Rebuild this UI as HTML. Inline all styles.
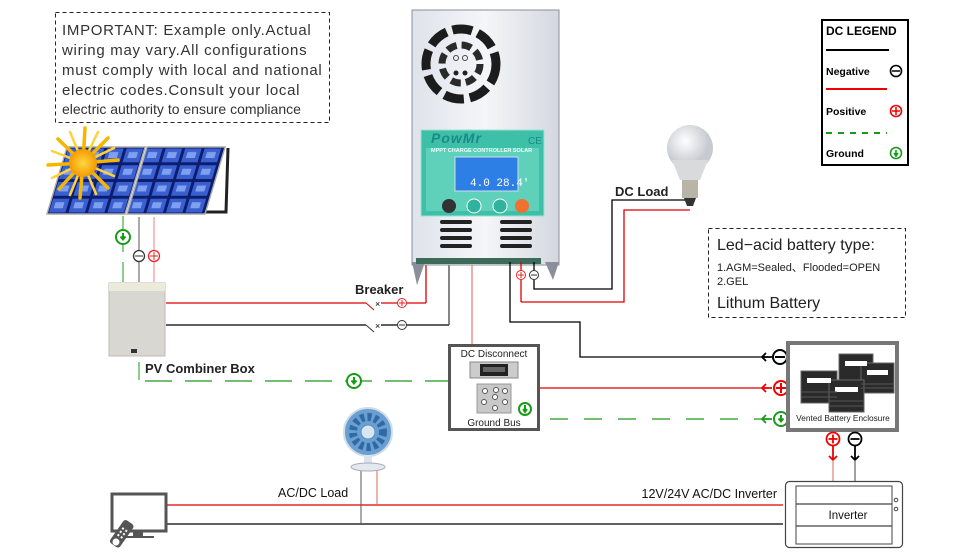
<!DOCTYPE html>
<html><head><meta charset="utf-8"><style>
html,body{margin:0;padding:0;background:#fff;}
svg{display:block;font-family:"Liberation Sans",Arial,sans-serif;}
</style></head><body>
<svg width="970" height="560" viewBox="0 0 970 560" xmlns="http://www.w3.org/2000/svg">
<defs>
<pattern id="cell" x="0" y="0" width="19.5" height="16.75" patternUnits="userSpaceOnUse">
<rect width="19.5" height="16.75" fill="#0d1d6e"/>
<rect x="1.5" y="1.5" width="16.5" height="13.75" fill="#3a5fd0"/>
<rect x="5" y="5" width="9" height="6" fill="#7fa0ee"/>
</pattern>
<linearGradient id="silver" x1="0" x2="1"><stop offset="0" stop-color="#dfe3ea"/><stop offset="0.5" stop-color="#f4f6f9"/><stop offset="1" stop-color="#d4d8df"/></linearGradient>
<radialGradient id="sun"><stop offset="0" stop-color="#ffd640"/><stop offset="1" stop-color="#f39a00"/></radialGradient>
<radialGradient id="bulb" cx="0.4" cy="0.35"><stop offset="0" stop-color="#fff"/><stop offset="1" stop-color="#c7cbd0"/></radialGradient>
</defs>

<!-- IMPORTANT box -->
<rect x="55.5" y="12.5" width="274" height="110" fill="none" stroke="#222" stroke-dasharray="4,3"/>
<g font-size="15" fill="#333" letter-spacing="0.7">
<text x="62" y="35">IMPORTANT: Example only.Actual</text>
<text x="62" y="55">wiring may vary.All configurations</text>
<text x="62" y="75">must comply with local and national</text>
<text x="62" y="95">electric codes.Consult your local</text>
<text x="62" y="114" font-size="14" letter-spacing="0">electric authority to ensure compliance</text>
</g>

<!-- Solar panels -->
<polyline points="228,148 226,212 205,212" fill="none" stroke="#222" stroke-width="3"/>
<g transform="translate(47,214) skewX(-16.7)">
<rect x="0" y="-67" width="78" height="67" fill="url(#cell)" stroke="#aaa" stroke-width="1.5"/>
<rect x="80" y="-67" width="78" height="67" fill="url(#cell)" stroke="#aaa" stroke-width="1.5"/>
</g>
<g stroke="#f6b600" stroke-width="3.5" stroke-linecap="round">
<line x1="83" y1="163" x2="85" y2="128"/><line x1="83" y1="163" x2="80" y2="198"/>
<line x1="83" y1="163" x2="48" y2="165"/><line x1="83" y1="163" x2="118" y2="160"/>
<line x1="83" y1="163" x2="58" y2="139"/><line x1="83" y1="163" x2="108" y2="138"/>
<line x1="83" y1="163" x2="59" y2="189"/><line x1="83" y1="163" x2="108" y2="188"/>
</g>
<g stroke="#ffd23a" stroke-width="2.5" stroke-linecap="round">
<line x1="83" y1="163" x2="70" y2="132"/><line x1="83" y1="163" x2="98" y2="132"/>
<line x1="83" y1="163" x2="52" y2="151"/><line x1="83" y1="163" x2="114" y2="176"/>
<line x1="83" y1="163" x2="52" y2="178"/><line x1="83" y1="163" x2="114" y2="148"/>
<line x1="83" y1="163" x2="70" y2="195"/><line x1="83" y1="163" x2="96" y2="194"/>
</g>
<circle cx="83" cy="163" r="14" fill="url(#sun)"/>

<!-- panel wires -->
<line x1="123" y1="216" x2="123" y2="230" stroke="#1a9a1a"/>
<line x1="123" y1="244" x2="123" y2="252" stroke="#1a9a1a"/>
<line x1="123" y1="262" x2="123" y2="282" stroke="#1a9a1a"/>
<line x1="139" y1="217" x2="139" y2="282" stroke="#555"/>
<line x1="154" y1="217" x2="154" y2="282" stroke="#f08080"/>
<circle cx="123" cy="237" r="7" fill="#fff" stroke="#1a9a1a" stroke-width="2"/>
<path d="M123 233v6m-2.5-2.5l2.5 3 2.5-3" stroke="#1a9a1a" stroke-width="2" fill="none"/>
<circle cx="139" cy="256" r="5.5" fill="#fff" stroke="#333" stroke-width="1.3"/><line x1="135" y1="256" x2="143" y2="256" stroke="#333"/>
<circle cx="154" cy="256" r="5.5" fill="#fff" stroke="#e22" stroke-width="1.3"/><path d="M150 256h8M154 252v8" stroke="#e22"/>

<!-- combiner box -->
<rect x="109" y="283" width="56" height="73" fill="#d8d7d2" stroke="#bbb"/>
<rect x="109" y="283" width="56" height="8" fill="#ecebd9"/>
<rect x="131" y="349" width="6" height="4" fill="#333"/>
<text x="145" y="373" font-size="13" font-weight="bold" fill="#222">PV Combiner Box</text>
<line x1="139" y1="362" x2="139" y2="380" stroke="#1a9a1a"/>
<line x1="145" y1="381" x2="448" y2="381" stroke="#1a9a1a" stroke-width="1.3" stroke-dasharray="27,13"/>
<circle cx="354" cy="381" r="7" fill="#fff" stroke="#1a9a1a" stroke-width="2"/>
<path d="M354 377v6m-2.5-2.5l2.5 3 2.5-3" stroke="#1a9a1a" stroke-width="2" fill="none"/>

<!-- breaker lines -->
<line x1="166" y1="303" x2="366" y2="303" stroke="#d00" stroke-width="1.3"/>
<line x1="166" y1="325" x2="366" y2="325" stroke="#000" stroke-width="1.3"/>
<line x1="366" y1="303" x2="374" y2="310" stroke="#d00"/>
<line x1="366" y1="325" x2="374" y2="332" stroke="#333"/>
<text x="375" y="307" font-size="9">×</text><text x="375" y="329" font-size="9">×</text>
<line x1="381" y1="303" x2="426" y2="303" stroke="#d00" stroke-width="1.3"/>
<line x1="381" y1="325" x2="449" y2="325" stroke="#000" stroke-width="1.3"/>
<circle cx="402" cy="303" r="4.5" fill="#fff" stroke="#e22"/><path d="M399 303h6M402 300v6" stroke="#e22"/>
<circle cx="402" cy="325" r="4.5" fill="#fff" stroke="#333"/><line x1="399" y1="325" x2="405" y2="325" stroke="#333"/>
<text x="355" y="294" font-size="13" font-weight="bold" fill="#222">Breaker</text>
<line x1="426" y1="262" x2="426" y2="303" stroke="#d00" stroke-width="1.3"/>
<line x1="449" y1="262" x2="449" y2="325" stroke="#444" stroke-width="1.3"/>
<line x1="472" y1="262" x2="472" y2="345" stroke="#f08080" stroke-width="1.3"/>

<!-- controller -->
<rect x="412" y="10" width="147" height="255" fill="url(#silver)" stroke="#8a8f99"/>
<polygon points="412,262 417,285 425,262" fill="#8a8f99"/>
<polygon points="559,262 553,280 545,262" fill="#8a8f99"/>
<circle cx="461" cy="64" r="35" fill="none" stroke="#1c1c1c" stroke-width="9" stroke-dasharray="20,6"/>
<circle cx="461" cy="64" r="19" fill="none" stroke="#2a2a2a" stroke-width="7" stroke-dasharray="10,5"/>
<circle cx="456" cy="73" r="2.5" fill="#222"/><circle cx="465" cy="73" r="2.5" fill="#222"/>
<circle cx="456" cy="58" r="2.5" fill="none" stroke="#444"/><circle cx="465" cy="58" r="2.5" fill="none" stroke="#444"/>
<rect x="421" y="130" width="123" height="86" fill="#3ebfa7" stroke="#9ee0d2"/>
<rect x="426" y="148" width="113" height="63" fill="#5fd0b9"/>
<text x="431" y="143" font-size="14" font-weight="bold" font-style="italic" fill="#1a8a88" letter-spacing="1">PowMr</text>
<text x="528" y="144" font-size="10" fill="#1a8a88">CE</text>
<text x="431" y="152" font-size="5.5" font-weight="bold" fill="#e8fff9">MPPT CHARGE CONTROLLER SOLAR</text>
<rect x="455" y="157" width="63" height="34" fill="#2d7fe6" stroke="#cde"/>
<text x="470" y="186" font-size="11" fill="#fff" font-family="Liberation Mono,monospace">4.0 28.4'</text>
<circle cx="449" cy="206" r="7" fill="#333"/><circle cx="474" cy="206" r="7" fill="#2fb39c" stroke="#fff"/>
<circle cx="500" cy="206" r="7" fill="#2fb39c" stroke="#fff"/><circle cx="522" cy="206" r="7" fill="#f07030"/>
<g stroke="#222" stroke-width="4" stroke-linecap="round">
<line x1="442" y1="222" x2="470" y2="222"/><line x1="442" y1="230" x2="470" y2="230"/><line x1="442" y1="238" x2="470" y2="238"/><line x1="442" y1="246" x2="470" y2="246"/>
<line x1="502" y1="222" x2="530" y2="222"/><line x1="502" y1="230" x2="530" y2="230"/><line x1="502" y1="238" x2="530" y2="238"/><line x1="502" y1="246" x2="530" y2="246"/>
</g>
<rect x="416" y="258" width="125" height="6" fill="#3d6b5a"/>

<!-- DC load wires -->
<line x1="521" y1="262" x2="521" y2="302" stroke="#d00" stroke-width="1.3"/>
<polyline points="521,302 624,302 624,210 690,210" fill="none" stroke="#d00" stroke-width="1.3"/>
<polyline points="534,262 534,289 612,289 612,200 690,200" fill="none" stroke="#000" stroke-width="1.3"/>
<circle cx="521" cy="275" r="4.5" fill="#fff" stroke="#e22"/><path d="M518 275h6M521 272v6" stroke="#e22"/>
<circle cx="534" cy="275" r="4.5" fill="#fff" stroke="#333"/><line x1="531" y1="275" x2="537" y2="275" stroke="#333"/>
<text x="615" y="196" font-size="13" font-weight="bold" fill="#222">DC Load</text>
<!-- bulb -->
<circle cx="690" cy="148" r="23" fill="url(#bulb)"/>
<path d="M672 160 L680 180 L700 180 L708 160 Z" fill="#d8dadc"/>
<rect x="682" y="180" width="16" height="18" fill="#b8b4a8"/>
<path d="M684 198 h12 l-3 8 h-6z" fill="#333"/>

<!-- Legend -->
<rect x="822" y="20" width="86" height="145" fill="#fff" stroke="#000" stroke-width="2"/>
<text x="826" y="35" font-size="12" font-weight="bold" fill="#000">DC LEGEND</text>
<line x1="826" y1="50" x2="889" y2="50" stroke="#000" stroke-width="2"/>
<text x="826" y="75" font-size="10.5" font-weight="bold">Negative</text>
<circle cx="896" cy="71" r="5.5" fill="none" stroke="#000" stroke-width="1.6"/><line x1="892" y1="71" x2="900" y2="71" stroke="#000" stroke-width="1.5"/>
<line x1="826" y1="89" x2="887" y2="89" stroke="#e00" stroke-width="2"/>
<text x="826" y="115" font-size="10.5" font-weight="bold">Positive</text>
<circle cx="896" cy="111" r="5.5" fill="none" stroke="#e00" stroke-width="1.6"/><path d="M892 111h8M896 107v8" stroke="#e00" stroke-width="1.5"/>
<line x1="826" y1="133" x2="887" y2="133" stroke="#1a9a1a" stroke-width="2" stroke-dasharray="6,6"/>
<text x="826" y="157" font-size="10.5" font-weight="bold">Ground</text>
<circle cx="896" cy="153" r="5.5" fill="none" stroke="#1a9a1a" stroke-width="1.6"/><path d="M896 150v5m-2 -2l2 3 2-3" stroke="#1a9a1a" stroke-width="1.6" fill="none"/>

<!-- Lead-acid box -->
<rect x="708.5" y="228.5" width="197" height="89" fill="none" stroke="#222" stroke-dasharray="4,3"/>
<text x="717" y="250" font-size="16" fill="#222">Led−acid battery type:</text>
<text x="717" y="271" font-size="11" fill="#222">1.AGM=Sealed、Flooded=OPEN</text>
<text x="717" y="285" font-size="11" fill="#222">2.GEL</text>
<text x="717" y="308" font-size="16" fill="#222">Lithum Battery</text>

<!-- controller to battery -->
<polyline points="510,262 510,322 580,322 580,357 768,357" fill="none" stroke="#000" stroke-width="1.3"/>
<line x1="540" y1="388" x2="768" y2="388" stroke="#d00" stroke-width="1.3"/>
<line x1="550" y1="419" x2="768" y2="419" stroke="#1a9a1a" stroke-width="1.3" stroke-dasharray="18,16"/>
<path d="M772 357h-10m4-4l-4 4 4 4" fill="none" stroke="#000" stroke-width="1.8"/>
<path d="M772 388h-10m4-4l-4 4 4 4" fill="none" stroke="#e00" stroke-width="1.8"/>
<path d="M772 419h-10m4-4l-4 4 4 4" fill="none" stroke="#1a9a1a" stroke-width="1.8"/>
<circle cx="780" cy="357" r="7" fill="#fff" stroke="#000" stroke-width="2"/><line x1="775" y1="357" x2="785" y2="357" stroke="#000" stroke-width="2"/>
<circle cx="781" cy="388" r="7" fill="#fff" stroke="#e00" stroke-width="2"/><path d="M776 388h10M781 383v10" stroke="#e00" stroke-width="2"/>
<circle cx="781" cy="419" r="7" fill="#fff" stroke="#1a9a1a" stroke-width="2"/><path d="M781 415v6m-2.5-2.5l2.5 3 2.5-3" stroke="#1a9a1a" stroke-width="2" fill="none"/>

<!-- DC Disconnect -->
<rect x="449.5" y="345.5" width="89" height="84" fill="#fff" stroke="#555" stroke-width="3"/>
<text x="494" y="357" font-size="10" text-anchor="middle" fill="#222">DC Disconnect</text>
<rect x="470" y="362" width="48" height="16" fill="#ccc" stroke="#888"/>
<rect x="480" y="364" width="28" height="12" fill="#222"/><rect x="483" y="367" width="22" height="5" fill="#666"/>
<rect x="477" y="384" width="34" height="29" fill="#c8c8c8" stroke="#999"/>
<g fill="#fff" stroke="#555"><circle cx="485" cy="391" r="2.5"/><circle cx="496" cy="390" r="2.5"/><circle cx="505" cy="391" r="2.5"/><circle cx="484" cy="402" r="2.5"/><circle cx="495" cy="397" r="2.5"/><circle cx="505" cy="402" r="2.5"/><circle cx="495" cy="408" r="2.5"/></g>
<circle cx="525" cy="409" r="6" fill="#fff" stroke="#1a9a1a" stroke-width="2"/><path d="M525 405v6m-2 -2l2 3 2-3" stroke="#1a9a1a" stroke-width="2" fill="none"/>
<text x="494" y="426" font-size="10" text-anchor="middle" fill="#222">Ground Bus</text>

<!-- Battery enclosure -->
<rect x="788" y="343" width="109" height="87" fill="#fff" stroke="#777" stroke-width="4"/>
<g fill="#2a2a2a" stroke="#666">
<rect x="839" y="354" width="34" height="30"/><rect x="861" y="363" width="33" height="30"/>
<rect x="801" y="371" width="36" height="32"/><rect x="829" y="380" width="35" height="32"/>
</g>
<g fill="#fff"><rect x="845" y="361" width="22" height="5"/><rect x="867" y="370" width="21" height="5"/><rect x="807" y="378" width="24" height="5"/><rect x="835" y="387" width="23" height="5"/></g>
<g stroke="#555" stroke-width="1"><line x1="801" y1="392" x2="837" y2="392"/><line x1="801" y1="397" x2="837" y2="397"/><line x1="829" y1="401" x2="864" y2="401"/><line x1="829" y1="406" x2="864" y2="406"/><line x1="861" y1="384" x2="894" y2="384"/><line x1="861" y1="388" x2="894" y2="388"/></g>
<text x="843" y="421" font-size="8.3" text-anchor="middle" fill="#222">Vented Battery Enclosure</text>

<circle cx="833" cy="439" r="6.5" fill="#fff" stroke="#e00" stroke-width="1.8"/><path d="M828.5 439h9M833 434.5v9" stroke="#e00" stroke-width="1.8"/>
<circle cx="855" cy="439" r="6.5" fill="#fff" stroke="#000" stroke-width="1.8"/><line x1="850.5" y1="439" x2="859.5" y2="439" stroke="#000" stroke-width="1.8"/>
<path d="M833 446v14m-4-4l4 4 4-4" stroke="#e00" stroke-width="1.8" fill="none"/>
<path d="M855 446v14m-4-4l4 4 4-4" stroke="#000" stroke-width="1.8" fill="none"/>
<line x1="833" y1="460" x2="833" y2="481" stroke="#e06060"/>
<line x1="855" y1="460" x2="855" y2="481" stroke="#444"/>

<!-- Inverter -->
<rect x="785.5" y="481.5" width="117" height="66" rx="4" fill="#fff" stroke="#444" stroke-width="1.2"/>
<rect x="796" y="486" width="96" height="58" fill="none" stroke="#444"/>
<line x1="796" y1="504" x2="892" y2="504" stroke="#444" stroke-width="1.2"/>
<line x1="796" y1="526" x2="892" y2="526" stroke="#444" stroke-width="1.2"/>
<circle cx="896" cy="500" r="1.8" fill="none" stroke="#444"/><circle cx="896" cy="509" r="1.8" fill="none" stroke="#444"/>
<text x="848" y="519" font-size="11.5" text-anchor="middle" fill="#111">Inverter</text>
<text x="777" y="498" font-size="12.5" text-anchor="end" fill="#111">12V/24V AC/DC Inverter</text>

<!-- AC lines -->
<line x1="166" y1="505" x2="783" y2="505" stroke="#d00" stroke-width="1.2"/>
<line x1="166" y1="524" x2="783" y2="524" stroke="#000" stroke-width="1.2"/>
<line x1="361" y1="468" x2="361" y2="524" stroke="#555"/>
<line x1="377" y1="468" x2="377" y2="505" stroke="#e06060"/>
<text x="278" y="497" font-size="12.5" fill="#111">AC/DC Load</text>

<!-- Fan -->
<circle cx="368" cy="432" r="24" fill="#6b9fd0" stroke="#cfdde9" stroke-width="2"/>
<circle cx="368" cy="432" r="15" fill="none" stroke="#2f6aa6" stroke-width="8" stroke-dasharray="4,3"/>
<circle cx="368" cy="432" r="7" fill="#d8e6f1" stroke="#5a8fc0"/>
<rect x="364" y="455" width="8" height="10" fill="#dbe4ec"/>
<ellipse cx="368" cy="467" rx="17" ry="4" fill="#e3e9ee" stroke="#aab"/>

<!-- TV -->
<rect x="112" y="494" width="54" height="37" fill="#fff" stroke="#555" stroke-width="3"/>
<rect x="133" y="531" width="10" height="5" fill="#555"/><rect x="126" y="536" width="28" height="2" fill="#555"/>
<g transform="translate(116,542) rotate(-55)">
<rect x="-4" y="-6" width="28" height="12" rx="3" fill="#555"/>
<circle cx="0" cy="0" r="3.5" fill="#fff"/>
<g fill="#fff"><rect x="6" y="-3" width="2" height="2"/><rect x="10" y="-3" width="2" height="2"/><rect x="14" y="-3" width="2" height="2"/><rect x="6" y="1" width="2" height="2"/><rect x="10" y="1" width="2" height="2"/><rect x="14" y="1" width="2" height="2"/></g>
</g>
</svg>
</body></html>
